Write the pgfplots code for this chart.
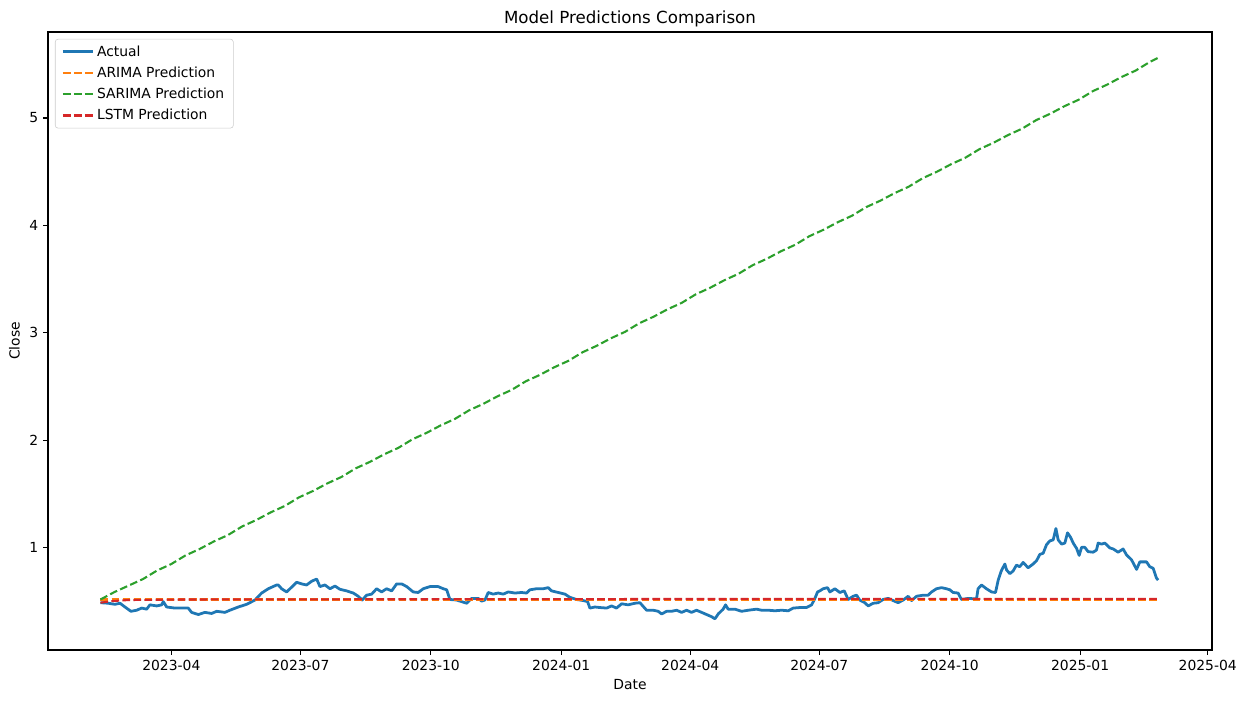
\documentclass[border=0pt]{standalone}
\usepackage{fontspec}
\setmainfont{DejaVu Sans}
\usepackage{pgfplots}
\pgfplotsset{compat=1.18}
\definecolor{c0}{HTML}{1F77B4}
\definecolor{c1}{HTML}{FF7F0E}
\definecolor{c2}{HTML}{2CA02C}
\definecolor{c3}{HTML}{D62728}
\begin{document}
\begin{tikzpicture}
\path[use as bounding box] (0,0) rectangle (895.68pt,504.72pt);
\begin{axis}[
  at={(34.56pt,36.72pt)}, anchor=south west,
  scale only axis, width=838.08pt, height=444.96pt,
  xmin=3, xmax=824, ymin=0.05, ymax=5.80,
  xtick={90,181,273,365,456,547,639,731,821},
  xticklabels={2023-04,2023-07,2023-10,2024-01,2024-04,2024-07,2024-10,2025-01,2025-04},
  ytick={1,2,3,4,5},
  /pgf/number format/assume math mode=true,
  tick label style={font=\fontsize{10}{12}\selectfont},
  tick align=outside, tick pos=left, major tick length=3.5pt,
  axis line style={line width=0.8pt},
  every tick/.style={line width=0.8pt, black},
  title={Model Predictions Comparison},
  title style={font=\fontsize{12}{14}\selectfont, yshift=-6pt},
  xlabel={Date}, ylabel={Close},
  label style={font=\fontsize{10}{12}\selectfont},
  legend cell align=left,
  legend image code/.code={\draw[#1] (0cm,0cm) -- (0.76cm,0cm);},
  legend style={at={(axis description cs:0,1)}, anchor=north west, xshift=5pt, yshift=-5pt,
    draw=black!20, rounded corners=2pt, font=\fontsize{10}{12}\selectfont,
    row sep=2.2pt, inner xsep=4.5pt, inner ysep=2.5pt},
]
\addplot[c0, line width=2pt, line join=round] coordinates {
(40,0.49)(45.5,0.485)(50.2,0.475)(53.8,0.485)(57.3,0.45)(61.5,0.41)(65.5,0.42)(69.1,0.44)(72.6,0.43)(74.9,0.47)(79.7,0.46)(83.2,0.47)(84.3,0.50)(86.7,0.45)(92.6,0.44)(98.4,0.44)(101.9,0.44)(104.3,0.40)(109,0.38)(113.7,0.40)(118.4,0.39)(122,0.41)(127.8,0.40)(131.3,0.42)(137.2,0.45)(143.1,0.475)(149,0.515)(153.7,0.58)(158.4,0.62)(164.3,0.655)
(165.4,0.655)(167.8,0.62)(171.3,0.59)(173.7,0.62)(178.4,0.68)(181.9,0.665)(185.4,0.655)(189,0.69)(192.5,0.71)(194.8,0.64)(198.3,0.655)(201.9,0.62)(205.4,0.645)(208.9,0.615)(213.6,0.60)(218.3,0.58)(221.8,0.55)(224.6,0.515)(227.7,0.56)(231.3,0.57)(234.8,0.62)(238.3,0.59)(241.8,0.62)(245.4,0.60)(248.9,0.665)(252.4,0.665)(256,0.64)(260.6,0.59)(264.1,0.585)(267.7,0.62)(272.4,0.64)(278.2,0.64)(281.8,0.62)(284.2,0.61)(286.5,0.52)(291.2,0.515)
(294.7,0.50)(298.3,0.485)(301.8,0.53)(306.5,0.53)(308.8,0.505)(311.2,0.515)(313.5,0.585)(317,0.57)(320.5,0.58)(324.1,0.57)(327.6,0.59)(332.3,0.58)(337,0.585)(340.6,0.58)(342.9,0.61)(347.6,0.62)(352.3,0.62)(355.8,0.63)(358.2,0.60)(362.9,0.585)(367.6,0.57)(371.1,0.54)(375.8,0.52)(380.5,0.51)(383.6,0.50)(385.2,0.44)(388.7,0.45)(392.3,0.445)(397,0.44)(400.5,0.46)(404,0.44)(407.6,0.48)(412.2,0.47)(416.9,0.485)(420.5,0.49)
(425.2,0.42)(429.9,0.42)(433.4,0.41)(435.8,0.385)(439.3,0.41)(442.8,0.41)(446.4,0.42)(449.9,0.40)(453.4,0.42)(456.9,0.40)(460.4,0.42)(464,0.40)(467.5,0.38)(471,0.36)(473.4,0.34)(475.7,0.385)(479.2,0.43)(480.9,0.47)(482.7,0.43)(487.5,0.43)(492.2,0.41)(496.9,0.42)(502.8,0.43)(506.3,0.42)(511,0.42)(515.7,0.415)(520.4,0.42)(525.1,0.415)(528.6,0.44)(533.3,0.445)(538,0.445)(541.6,0.47)(543.9,0.53)(545.8,0.59)(547.4,0.60)
(549.7,0.62)(552.8,0.63)(554.5,0.59)(558,0.62)(561.5,0.585)(564.6,0.60)(567.4,0.52)(570.9,0.55)(573.3,0.56)(575.5,0.515)(579.1,0.49)(581.5,0.46)(585,0.485)(588.5,0.49)(592,0.52)(595.6,0.53)(599.1,0.51)(602.6,0.49)(606.2,0.515)(609.7,0.55)(612.1,0.51)(615.6,0.55)(620.3,0.56)(623.8,0.56)(626.2,0.59)(629.7,0.62)(633.2,0.63)(636.7,0.62)(639.1,0.61)(641.4,0.585)(644.9,0.58)(647.3,0.52)(652,0.53)(657.9,0.525)(659,0.62)(661.4,0.655)(664.9,0.62)(668.5,0.59)(671.3,0.585)
(673.2,0.70)(675.5,0.79)(677.9,0.85)(679.1,0.795)(681.4,0.76)(683.7,0.785)(686.1,0.84)(688.4,0.825)(690.8,0.865)(694.3,0.815)(697.8,0.85)(700.2,0.88)(702.6,0.94)(704.9,0.95)(707.3,1.03)(709.6,1.065)(712,1.075)(713.9,1.18)(715.5,1.075)(717.9,1.035)(720.2,1.045)(722.1,1.14)(724.2,1.10)(726.1,1.045)(728.5,0.995)(730.3,0.93)(732,1.005)(734.3,1.005)(736.6,0.965)(740.2,0.96)(742.5,0.98)(743.7,1.045)(746.1,1.035)(748.4,1.045)(751.9,1.00)(754.3,0.99)(757.8,0.96)(761.3,0.99)(763.7,0.935)(767.2,0.89)(770.8,0.80)(773.1,0.87)(777.8,0.87)(780.1,0.825)(782.5,0.81)(784.8,0.72)(786,0.70)
};
\addlegendentry{Actual}
\addplot[c1, line width=1.5pt, dash pattern=on 5.55pt off 2.4pt] coordinates {
(40,0.52)(200,0.52)(400,0.52)(600,0.52)(786,0.52)
};
\addlegendentry{ARIMA Prediction}
\addplot[c2, line width=1.5pt, dash pattern=on 5.55pt off 2.4pt] coordinates {
(40,0.52)(50,0.59)(60,0.65)(70,0.71)(80,0.79)(90,0.85)(100,0.93)(110,0.99)(120,1.06)(130,1.12)(140,1.20)(150,1.26)(160,1.33)(170,1.39)(180,1.47)(190,1.53)(200,1.60)(210,1.66)(220,1.74)(230,1.80)(240,1.87)(250,1.93)(260,2.01)(270,2.07)(280,2.14)(290,2.20)(300,2.28)(310,2.34)(320,2.41)(330,2.47)(340,2.55)(350,2.61)(360,2.68)(370,2.74)(380,2.82)(390,2.88)(400,2.95)(410,3.01)(420,3.09)(430,3.15)(440,3.22)(450,3.28)(460,3.36)(470,3.42)(480,3.49)(490,3.55)(500,3.63)(510,3.69)(520,3.76)(530,3.82)(540,3.90)(550,3.96)(560,4.03)(570,4.09)(580,4.17)(590,4.23)(600,4.30)(610,4.36)(620,4.44)(630,4.50)(640,4.57)(650,4.63)(660,4.71)(670,4.77)(680,4.84)(690,4.90)(700,4.98)(710,5.04)(720,5.11)(730,5.17)(740,5.25)(750,5.31)(760,5.38)(770,5.44)(780,5.52)(786,5.56)
};
\addlegendentry{SARIMA Prediction}
\addplot[c3, line width=1.5pt, dash pattern=on 5.55pt off 2.4pt] coordinates {
(40,0.49)(48,0.505)(60,0.515)(100,0.52)(300,0.523)(500,0.525)(786,0.525)
};
\addlegendentry{LSTM Prediction}
\end{axis}
\end{tikzpicture}
\end{document}
